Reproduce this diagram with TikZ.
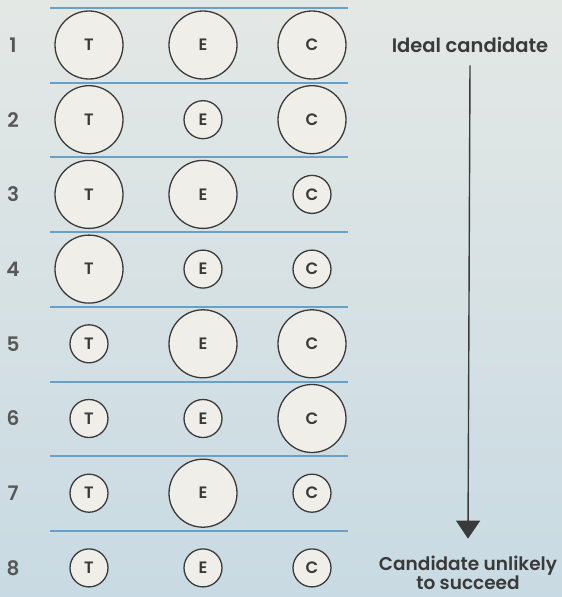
\documentclass[tikz,border=0pt]{standalone}
\usepackage{fontspec}
\setmainfont{Poppins}[BoldFont={Poppins SemiBold}]
\usepackage{tikz}
\usetikzlibrary{arrows.meta, positioning}
\definecolor{bgTop}{HTML}{E4E8E5}
\definecolor{bgBottom}{HTML}{C8DAE3}
\definecolor{ruleBlue}{HTML}{6A9FC6}
\definecolor{discFill}{HTML}{EFEEE8}
\definecolor{inkGrey}{HTML}{3A3A3A}

\begin{document}
\begin{tikzpicture}[
  x=1pt, y=-1pt,
  every node/.style={font=\fontsize{18}{20}\selectfont\bfseries, text=inkGrey},
  disc/.style={circle, draw=inkGrey, fill=discFill, line width=1.3pt, inner sep=0pt,
               font=\fontsize{16.5}{18}\selectfont\bfseries},
  bigc/.style={disc, minimum size=68pt},
  smallc/.style={disc, minimum size=38pt},
  rownum/.style={font=\fontsize{20}{22}\selectfont\bfseries, text=inkGrey!85},
  rule/.style={ruleBlue, line width=2pt},
  legend/.style={align=center, font=\fontsize{18.5}{20}\selectfont\bfseries},
  arr/.style={-{Triangle[length=18pt, width=24pt]}, line width=1.4pt, inkGrey},
]
  % background
  \useasboundingbox (0,0) rectangle (562,597);
  \shade[top color=bgTop, bottom color=bgBottom] (0,0) rectangle (562,597);

  % rows: T E C sizes
  \foreach \r/\t/\e/\c in {1/bigc/bigc/bigc, 2/bigc/smallc/bigc, 3/bigc/bigc/smallc,
                           4/bigc/smallc/smallc, 5/smallc/bigc/bigc, 6/smallc/smallc/bigc,
                           7/smallc/bigc/smallc, 8/smallc/smallc/smallc}{
    \pgfmathsetmacro\y{45+74.7*(\r-1)}
    \draw[rule] (50,\y-37) -- (348,\y-37);
    \node[rownum] (n\r) at (13,\y) {\r};
    \node[\t] (t\r) at (89,\y) {T};
    \node[\e] (e\r) at (203,\y) {E};
    \node[\c] (c\r) at (312,\y) {C};
  }

  \node[legend, font=\fontsize{19.5}{21}\selectfont\bfseries] (ideal) at (470,45) {Ideal candidate};
  \node[legend] (unlikely) at (468,573) {Candidate unlikely\\[-1pt]to succeed};
  \draw[arr] ([yshift=-9pt]ideal.south) -- ([yshift=14pt]unlikely.north);
\end{tikzpicture}
\end{document}
